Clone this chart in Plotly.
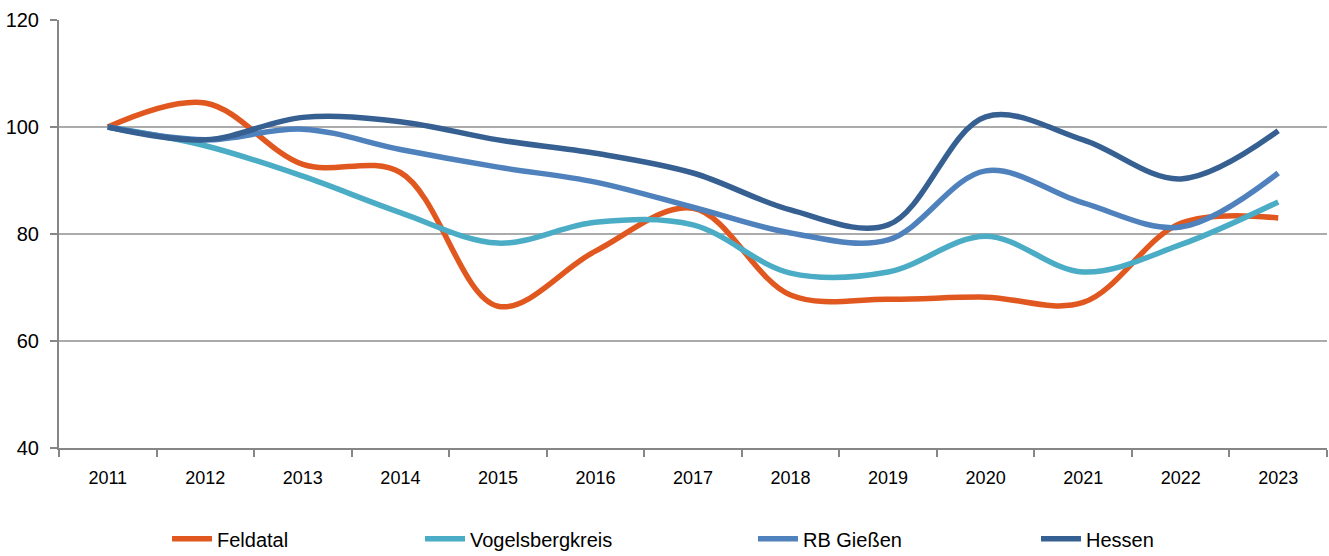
import plotly.graph_objects as go

# Index 2011 = 100
years = ["2011", "2012", "2013", "2014", "2015", "2016", "2017",
         "2018", "2019", "2020", "2021", "2022", "2023"]

feldatal = [100, 104.5, 93.0, 91.5, 66.5, 76.8, 84.8, 68.6, 67.8, 68.2, 67.2, 82.0, 83.0]
vogelsbergkreis = [100, 96.5, 90.8, 84.0, 78.3, 82.2, 81.7, 72.7, 72.9, 79.6, 72.9, 78.0, 86.0]
rb_giessen = [100, 97.6, 99.6, 95.8, 92.5, 89.7, 85.0, 80.2, 78.9, 91.8, 85.8, 81.3, 91.4]
hessen = [100, 97.6, 101.8, 101.0, 97.6, 95.1, 91.4, 84.5, 81.7, 101.9, 97.6, 90.3, 99.3]

series = [
    ("Feldatal", feldatal, "#E0581F"),
    ("Vogelsbergkreis", vogelsbergkreis, "#4BACC6"),
    ("RB Gießen", rb_giessen, "#4F81BD"),
    ("Hessen", hessen, "#366092"),
]

FONT = "Liberation Sans, Arial, sans-serif"
legend_x = [0.0852, 0.2847, 0.5473, 0.7705]

fig = go.Figure()
for i, (name, vals, col) in enumerate(series):
    fig.add_trace(go.Scatter(
        x=years, y=vals, name=name, mode="lines",
        line=dict(color=col, width=5.5, shape="spline", smoothing=1.0),
        legend="legend" if i == 0 else f"legend{i + 1}",
    ))

# one small legend per series, placed like the original's legend row
legends = {}
for i, lx in enumerate(legend_x):
    key = "legend" if i == 0 else f"legend{i + 1}"
    legends[key] = dict(
        x=lx, y=0.031, yref="container", xanchor="left", yanchor="middle",
        orientation="h", font=dict(family=FONT, size=20, color="#000"),
        bgcolor="rgba(0,0,0,0)", itemwidth=40,
    )

fig.update_layout(
    width=1329, height=556,
    margin=dict(l=59, r=2, t=20, b=108, autoexpand=False),
    plot_bgcolor="white", paper_bgcolor="white",
    font=dict(family=FONT, size=19, color="#000"),
    showlegend=True,
    **legends,
)

fig.update_xaxes(
    type="category", range=[-0.5, 12.5], automargin=False,
    showgrid=False, showline=True, linecolor="#868686", linewidth=2,
    ticks="outside", tickson="boundaries", ticklen=7, tickcolor="#868686",
    tickwidth=2, tickfont=dict(size=18), ticklabelstandoff=12,
)
fig.update_yaxes(
    range=[40, 120], dtick=20, tick0=40, automargin=False,
    showgrid=True, gridcolor="#ABABAB", gridwidth=2,
    showline=True, linecolor="#868686", linewidth=2,
    ticks="outside", ticklen=7, tickcolor="#868686", tickwidth=2,
    zeroline=False, tickfont=dict(size=20), ticklabelstandoff=7,
)

# page without the default body margin, so the figure sits at (0, 0)
fig.write_html("out.html", config={"displayModeBar": False},
               post_script="document.body.style.margin='0';")
